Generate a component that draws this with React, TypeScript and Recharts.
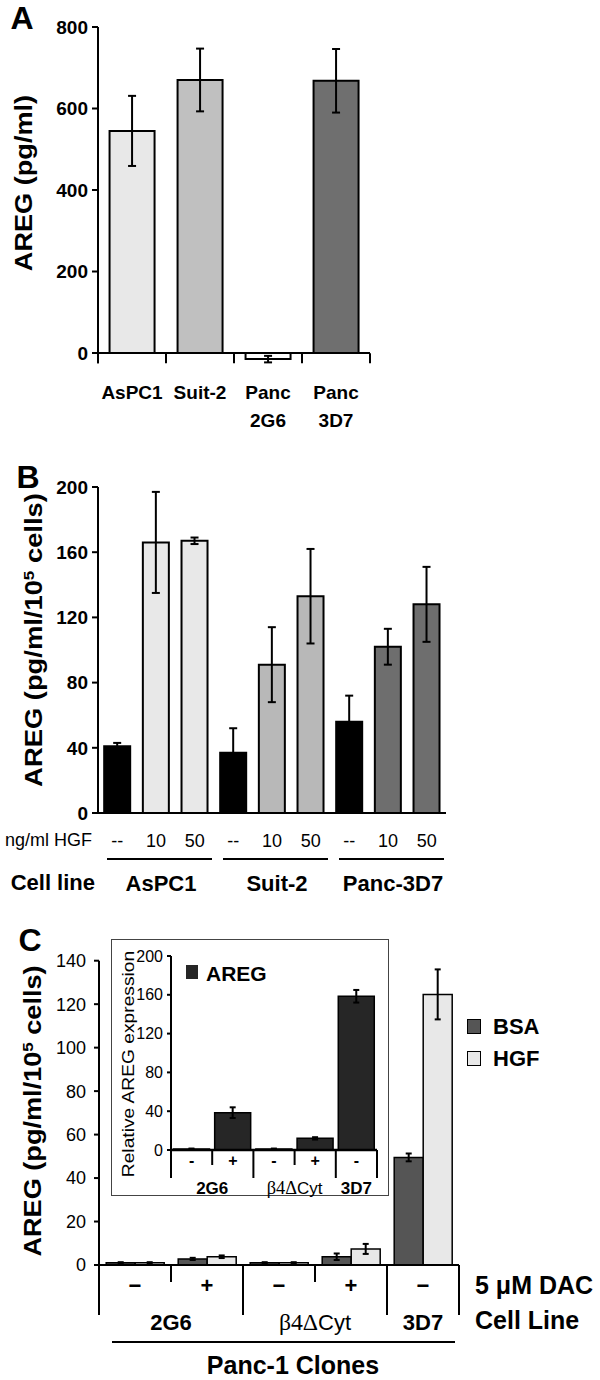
import React from "react";
import { BarChart, Bar, XAxis, YAxis, Cell, ErrorBar, ReferenceLine } from "recharts";

const SANS = '"Liberation Sans", Arial, sans-serif';
const SERIF = '"Liberation Serif", "Times New Roman", serif';

// panel A
const aLines = ["AsPC1", "Suit-2", "Panc 2G6", "Panc 3D7"];
const aValues = [545, 670, -15, 668];
const aErrors = [86, 77, 8, 78];
const aColors = ["#e8e8e8", "#c0c0c0", "#ffffff", "#6f6f6f"];

// panel B
const bDose = ["--", "10", "50", "--", "10", "50", "--", "10", "50"];
const bLines = ["AsPC1", "Suit-2", "Panc-3D7"];
const bValues = [41, 166, 167, 37, 91, 133, 56, 102, 128];
const bErrors = [2, 31, 2, 15, 23, 29, 16, 11, 23];
const bLineColors = ["#e8e8e8", "#b8b8b8", "#6e6e6e"];

// panel C
const cDac = ["−", "+", "−", "+", "−"];
const cClones = ["2G6", "2G6", "β4ΔCyt", "β4ΔCyt", "3D7"];
const cBsa = [1, 2.8, 1, 3.8, 49.5];
const cBsaErr = [0.3, 0.5, 0.3, 1.5, 1.8];
const cHgf = [1, 3.8, 1, 7.4, 124.5];
const cHgfErr = [0.3, 0.6, 0.3, 2.3, 11.5];

// inset
const inDac = ["-", "+", "-", "+", "-"];
const inValues = [1, 38.5, 1, 12, 158.5];
const inErrors = [0.5, 5.5, 0.5, 1.2, 6.5];

const aData = aLines.map((name, i) => ({ name, value: aValues[i], err: aErrors[i] }));
const bData = bDose.map((dose, i) => ({ id: "b" + i, dose, value: bValues[i], err: bErrors[i] }));
const cData = cDac.map((dac, i) => ({
  id: "c" + i,
  bsa: cBsa[i],
  bsaErr: cBsaErr[i],
  hgf: cHgf[i],
  hgfErr: cHgfErr[i],
}));
const inData = inDac.map((dac, i) => ({ id: "i" + i, value: inValues[i], err: inErrors[i] }));

const black2 = { stroke: "#000", strokeWidth: 2 };

function Txt({ x, y, size, bold = false, rotate = 0, sx = 1, anchor = "middle", family = SANS, children }: any) {
  const tx = anchor === "middle" ? "-50%" : anchor === "end" ? "-100%" : "0";
  return (
    <div
      style={{
        position: "absolute",
        left: x,
        top: y,
        fontFamily: family,
        fontSize: size,
        fontWeight: bold ? 700 : 400,
        lineHeight: 1,
        whiteSpace: "nowrap",
        color: "#000",
        transform: `translate(${tx}, -50%) rotate(${rotate}deg) scaleX(${sx})`,
      }}
    >
      {children}
    </div>
  );
}

const Sup = ({ children }: any) => (
  <span style={{ fontSize: "0.62em", position: "relative", top: "-0.55em" }}>{children}</span>
);

// boundary tick marks at the edges of each category band
const ATick = (p: any) => {
  const parts = String(p.payload.value).split(" ");
  const half = p.payload.offset;
  return (
    <g>
      <line x1={p.x - half} x2={p.x - half} y1={p.y - 10} y2={p.y} {...black2} />
      {p.index === aLines.length - 1 && <line x1={p.x + half} x2={p.x + half} y1={p.y - 10} y2={p.y} {...black2} />}
      <text textAnchor="middle" fontFamily={SANS} fontSize={19} fontWeight={700} fill="#000">
        {parts.map((s, i) => (
          <tspan key={i} x={p.x} y={p.y + 36 + i * 28}>
            {s}
          </tspan>
        ))}
      </text>
    </g>
  );
};

const BTick = (p: any) => {
  const half = p.payload.offset;
  const mid = p.index % 3 === 1;
  return (
    <g>
      <text x={p.x} y={p.y + 28} textAnchor="middle" dominantBaseline="central" fontFamily={SANS} fontSize={18} fill="#000">
        {bDose[p.index]}
      </text>
      {mid && (
        <g>
          <line x1={p.x - 3 * half + 9} x2={p.x + 3 * half - 2} y1={p.y + 46} y2={p.y + 46} {...black2} />
          <text x={p.x + 5} y={p.y + 70} textAnchor="middle" dominantBaseline="central" fontFamily={SANS} fontSize={22} fontWeight={700} fill="#000">
            {bLines[Math.floor(p.index / 3)]}
          </text>
        </g>
      )}
    </g>
  );
};

const CloneLabel = ({ x, y, name, size }: any) => {
  if (name.startsWith("β")) {
    return (
      <text x={x} y={y} textAnchor="middle" dominantBaseline="central" fontSize={size} fill="#000">
        <tspan fontFamily={SERIF} fontSize={size * 1.08}>β4Δ</tspan>
        <tspan fontFamily={SANS}>Cyt</tspan>
      </text>
    );
  }
  return (
    <text x={x} y={y} textAnchor="middle" dominantBaseline="central" fontFamily={SANS} fontSize={size} fontWeight={700} fill="#000">
      {name}
    </text>
  );
};

const makeCloneTick = (dac: string[], opt: any) => (p: any) => {
  const half = p.payload.offset;
  const i = p.index;
  const last = i === dac.length - 1;
  const first = i === 0 || cClones[i - 1] !== cClones[i];
  const groupEnd = last || cClones[i + 1] !== cClones[i];
  const sepLen = first ? opt.tall : opt.short;
  return (
    <g>
      <line x1={p.x - half} x2={p.x - half} y1={p.y} y2={p.y + sepLen} {...black2} />
      {last && <line x1={p.x + half} x2={p.x + half} y1={p.y} y2={p.y + opt.tall} {...black2} />}
      <text x={p.x} y={p.y + opt.dacY} textAnchor="middle" dominantBaseline="central" fontFamily={SANS} fontSize={opt.dacSize} fontWeight={700} fill="#000">
        {dac[i]}
      </text>
      {first && (
        <CloneLabel x={groupEnd ? p.x : p.x + half} y={p.y + opt.cloneY} name={cClones[i]} size={opt.cloneSize} />
      )}
    </g>
  );
};

const CTick = makeCloneTick(cDac, { tall: 50, short: 17, dacY: 20, dacSize: 22, cloneY: 57, cloneSize: 22 });
const InTick = makeCloneTick(inDac, { tall: 28, short: 15, dacY: 10, dacSize: 16, cloneY: 38, cloneSize: 17 });

export default function App() {
  return (
    <div style={{ position: "absolute", left: 0, top: 0, width: 600, height: 1380, background: "#fff", overflow: "hidden" }}>
      {/* panel A */}
      <div style={{ position: "absolute", left: 0, top: 0 }}>
        <BarChart width={600} height={440} data={aData} margin={{ top: 27, right: 230, bottom: 6.8, left: 0 }} barCategoryGap="17%">
          <XAxis dataKey="name" height={70} axisLine={false} tickLine={false} tickSize={0} tickMargin={0} interval={0} tick={ATick} />
          <YAxis domain={[-25, 800]} allowDataOverflow ticks={[0, 200, 400, 600, 800]} interval={0} width={98} axisLine={black2} tickLine={black2} tickSize={6} tickMargin={4} tick={{ fill: "#000", fontSize: 19, fontWeight: 700, fontFamily: SANS }} />
          <ReferenceLine y={0} stroke="#000" strokeWidth={2} />
          <Bar dataKey="value" stroke="#000" strokeWidth={2} isAnimationActive={false}>
            {aData.map((d, i) => (
              <Cell key={d.name} fill={aColors[i]} />
            ))}
            <ErrorBar dataKey="err" width={4} stroke="#000" strokeWidth={2} direction="y" />
          </Bar>
        </BarChart>
      </div>
      <Txt x={22} y={18} size={32} bold>A</Txt>
      <Txt x={24} y={183} size={24} bold rotate={-90} sx={1.13}>AREG (pg/ml)</Txt>

      {/* panel B */}
      <div style={{ position: "absolute", left: 0, top: 460 }}>
        <BarChart width={600} height={443} data={bData} margin={{ top: 27, right: 154, bottom: 0, left: 0 }} barCategoryGap="16%">
          <XAxis dataKey="id" height={90} axisLine={black2} tickLine={false} tickSize={0} tickMargin={0} interval={0} tick={BTick} />
          <YAxis domain={[0, 200]} ticks={[0, 40, 80, 120, 160, 200]} interval={0} width={98} axisLine={black2} tickLine={black2} tickSize={6} tickMargin={4} tick={{ fill: "#000", fontSize: 19, fontWeight: 700, fontFamily: SANS }} />
          <Bar dataKey="value" stroke="#000" strokeWidth={2} isAnimationActive={false}>
            {bData.map((d, i) => (
              <Cell key={d.id} fill={d.dose === "--" ? "#000" : bLineColors[Math.floor(i / 3)]} />
            ))}
            <ErrorBar dataKey="err" width={4} stroke="#000" strokeWidth={2} direction="y" />
          </Bar>
        </BarChart>
      </div>
      <Txt x={28} y={477} size={32} bold>B</Txt>
      <Txt x={34} y={640} size={24} bold rotate={-90} sx={1.14}>
        AREG (pg/ml/10<Sup>5</Sup> cells)
      </Txt>
      <Txt x={92} y={840} size={18} anchor="end">ng/ml HGF</Txt>
      <Txt x={95} y={883} size={22} bold anchor="end">Cell line</Txt>

      {/* panel C */}
      <div style={{ position: "absolute", left: 0, top: 900 }}>
        <BarChart width={600} height={455} data={cData} margin={{ top: 60.7, right: 141, bottom: 0, left: 0 }} barCategoryGap="10%" barGap={0}>
          <XAxis dataKey="id" height={90} axisLine={black2} tickLine={false} tickSize={0} tickMargin={0} interval={0} tick={CTick} />
          <YAxis domain={[0, 140]} ticks={[0, 20, 40, 60, 80, 100, 120, 140]} interval={0} width={99} axisLine={black2} tickLine={black2} tickSize={5} tickMargin={8} tick={{ fill: "#000", fontSize: 18, fontFamily: SANS }} />
          <Bar dataKey="bsa" fill="#555555" stroke="#000" strokeWidth={1.5} isAnimationActive={false}>
            <ErrorBar dataKey="bsaErr" width={3} stroke="#000" strokeWidth={2} direction="y" />
          </Bar>
          <Bar dataKey="hgf" fill="#e8e8e8" stroke="#000" strokeWidth={1.5} isAnimationActive={false}>
            <ErrorBar dataKey="hgfErr" width={3} stroke="#000" strokeWidth={2} direction="y" />
          </Bar>
        </BarChart>
      </div>
      <Txt x={30} y={940} size={32} bold>C</Txt>
      <Txt x={33} y={1111} size={24} bold rotate={-90} sx={1.13}>
        AREG (pg/ml/10<Sup>5</Sup> cells)
      </Txt>

      {/* legend */}
      <div style={{ position: "absolute", left: 467, top: 1019, width: 12, height: 13, background: "#555", border: "1.5px solid #000" }} />
      <Txt x={493} y={1027} size={22} bold anchor="start">BSA</Txt>
      <div style={{ position: "absolute", left: 467, top: 1051, width: 12, height: 13, background: "#e8e8e8", border: "1.5px solid #000" }} />
      <Txt x={493} y={1059} size={22} bold anchor="start">HGF</Txt>

      <Txt x={475} y={1285} size={25} bold anchor="start">5 μM DAC</Txt>
      <Txt x={475} y={1320} size={25} bold anchor="start">Cell Line</Txt>
      <div style={{ position: "absolute", left: 112, top: 1341, width: 343, height: 2, background: "#000" }} />
      <Txt x={293} y={1365} size={25} bold>Panc-1 Clones</Txt>

      {/* inset */}
      <div style={{ position: "absolute", left: 111, top: 939, width: 278, height: 257, border: "1.5px solid #444", boxSizing: "border-box", background: "#fff" }} />
      <div style={{ position: "absolute", left: 112, top: 940 }}>
        <BarChart width={276} height={264} data={inData} margin={{ top: 16, right: 11, bottom: 9, left: 0 }} barCategoryGap="6%">
          <XAxis dataKey="id" height={45} axisLine={{ stroke: "#000", strokeWidth: 2.5 }} tickLine={false} tickSize={0} tickMargin={0} interval={0} tick={InTick} />
          <YAxis domain={[0, 200]} ticks={[0, 40, 80, 120, 160, 200]} interval={0} width={59} axisLine={black2} tickLine={black2} tickSize={4} tickMargin={4} tick={{ fill: "#000", fontSize: 16, fontFamily: SANS }} />
          <Bar dataKey="value" fill="#262626" stroke="#000" strokeWidth={1.5} isAnimationActive={false}>
            <ErrorBar dataKey="err" width={3} stroke="#000" strokeWidth={2} direction="y" />
          </Bar>
        </BarChart>
      </div>
      <div style={{ position: "absolute", left: 186, top: 965, width: 12, height: 14, background: "#262626" }} />
      <Txt x={206} y={973} size={21} bold anchor="start">AREG</Txt>
      <Txt x={128} y={1064} size={17} rotate={-90} sx={1.13}>Relative AREG expression</Txt>
    </div>
  );
}
